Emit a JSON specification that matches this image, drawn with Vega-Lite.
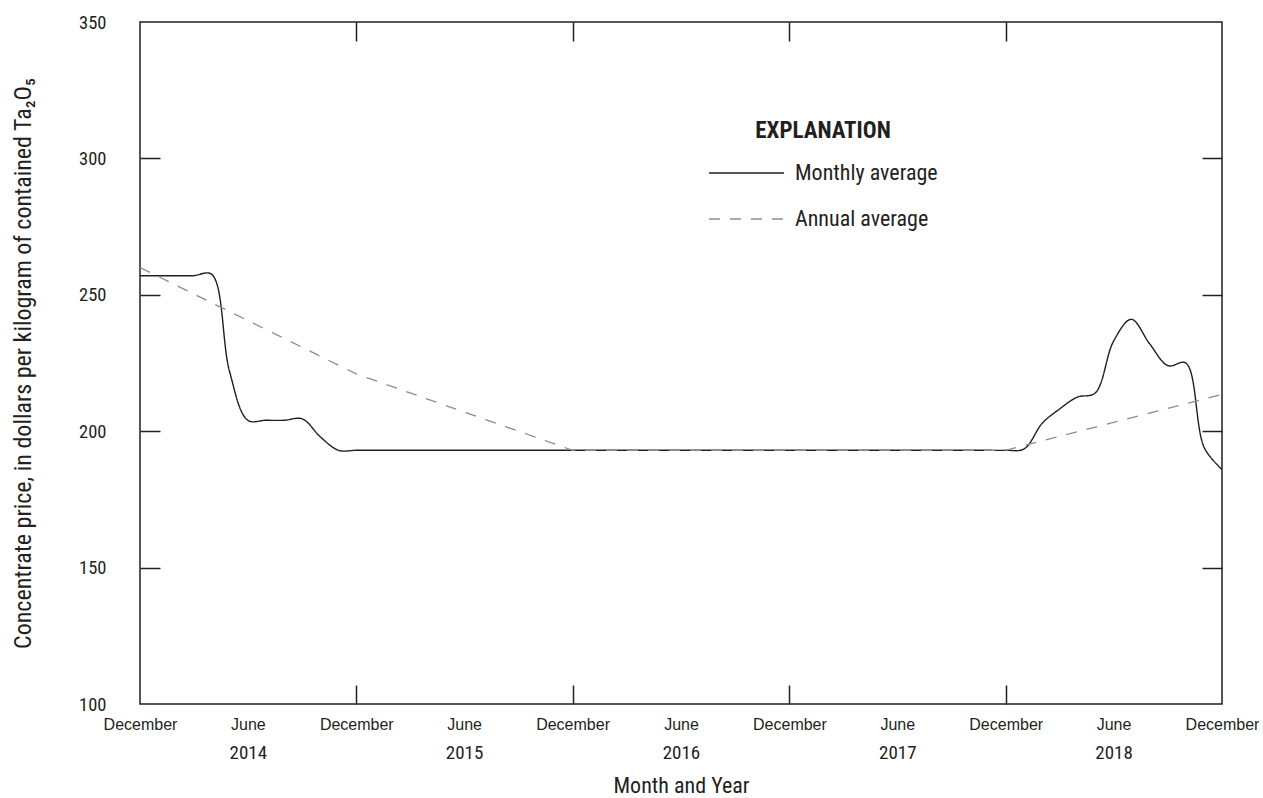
{
  "$schema": "https://vega.github.io/schema/vega-lite/v6.json",
  "width": 1082,
  "height": 682,
  "autosize": {"type": "none"},
  "padding": {"left": 140, "top": 22, "right": 41, "bottom": 94},
  "datasets": {
    "monthly": [
      {"date": "2013-12-01", "price": 257, "series": "Monthly average"},
      {"date": "2014-01-01", "price": 257, "series": "Monthly average"},
      {"date": "2014-02-01", "price": 257, "series": "Monthly average"},
      {"date": "2014-03-01", "price": 257, "series": "Monthly average"},
      {"date": "2014-04-01", "price": 257.5, "series": "Monthly average"},
      {"date": "2014-05-01", "price": 222, "series": "Monthly average"},
      {"date": "2014-06-01", "price": 204, "series": "Monthly average"},
      {"date": "2014-07-01", "price": 204, "series": "Monthly average"},
      {"date": "2014-08-01", "price": 204, "series": "Monthly average"},
      {"date": "2014-09-01", "price": 204.5, "series": "Monthly average"},
      {"date": "2014-10-01", "price": 198, "series": "Monthly average"},
      {"date": "2014-11-01", "price": 193, "series": "Monthly average"},
      {"date": "2014-12-01", "price": 193, "series": "Monthly average"},
      {"date": "2015-01-01", "price": 193, "series": "Monthly average"},
      {"date": "2015-02-01", "price": 193, "series": "Monthly average"},
      {"date": "2015-03-01", "price": 193, "series": "Monthly average"},
      {"date": "2015-04-01", "price": 193, "series": "Monthly average"},
      {"date": "2015-05-01", "price": 193, "series": "Monthly average"},
      {"date": "2015-06-01", "price": 193, "series": "Monthly average"},
      {"date": "2015-07-01", "price": 193, "series": "Monthly average"},
      {"date": "2015-08-01", "price": 193, "series": "Monthly average"},
      {"date": "2015-09-01", "price": 193, "series": "Monthly average"},
      {"date": "2015-10-01", "price": 193, "series": "Monthly average"},
      {"date": "2015-11-01", "price": 193, "series": "Monthly average"},
      {"date": "2015-12-01", "price": 193, "series": "Monthly average"},
      {"date": "2016-01-01", "price": 193, "series": "Monthly average"},
      {"date": "2016-02-01", "price": 193, "series": "Monthly average"},
      {"date": "2016-03-01", "price": 193, "series": "Monthly average"},
      {"date": "2016-04-01", "price": 193, "series": "Monthly average"},
      {"date": "2016-05-01", "price": 193, "series": "Monthly average"},
      {"date": "2016-06-01", "price": 193, "series": "Monthly average"},
      {"date": "2016-07-01", "price": 193, "series": "Monthly average"},
      {"date": "2016-08-01", "price": 193, "series": "Monthly average"},
      {"date": "2016-09-01", "price": 193, "series": "Monthly average"},
      {"date": "2016-10-01", "price": 193, "series": "Monthly average"},
      {"date": "2016-11-01", "price": 193, "series": "Monthly average"},
      {"date": "2016-12-01", "price": 193, "series": "Monthly average"},
      {"date": "2017-01-01", "price": 193, "series": "Monthly average"},
      {"date": "2017-02-01", "price": 193, "series": "Monthly average"},
      {"date": "2017-03-01", "price": 193, "series": "Monthly average"},
      {"date": "2017-04-01", "price": 193, "series": "Monthly average"},
      {"date": "2017-05-01", "price": 193, "series": "Monthly average"},
      {"date": "2017-06-01", "price": 193, "series": "Monthly average"},
      {"date": "2017-07-01", "price": 193, "series": "Monthly average"},
      {"date": "2017-08-01", "price": 193, "series": "Monthly average"},
      {"date": "2017-09-01", "price": 193, "series": "Monthly average"},
      {"date": "2017-10-01", "price": 193, "series": "Monthly average"},
      {"date": "2017-11-01", "price": 193, "series": "Monthly average"},
      {"date": "2017-12-01", "price": 193, "series": "Monthly average"},
      {"date": "2018-01-01", "price": 193.5, "series": "Monthly average"},
      {"date": "2018-02-01", "price": 203, "series": "Monthly average"},
      {"date": "2018-03-01", "price": 208, "series": "Monthly average"},
      {"date": "2018-04-01", "price": 212.5, "series": "Monthly average"},
      {"date": "2018-05-01", "price": 214, "series": "Monthly average"},
      {"date": "2018-06-01", "price": 233, "series": "Monthly average"},
      {"date": "2018-07-01", "price": 241, "series": "Monthly average"},
      {"date": "2018-08-01", "price": 232, "series": "Monthly average"},
      {"date": "2018-09-01", "price": 224, "series": "Monthly average"},
      {"date": "2018-10-01", "price": 225, "series": "Monthly average"},
      {"date": "2018-11-01", "price": 194, "series": "Monthly average"},
      {"date": "2018-12-01", "price": 186, "series": "Monthly average"}
    ],
    "annual": [
      {"date": "2013-12-01", "price": 260, "series": "Annual average"},
      {"date": "2014-12-01", "price": 221, "series": "Annual average"},
      {"date": "2015-12-01", "price": 193, "series": "Annual average"},
      {"date": "2016-12-01", "price": 193, "series": "Annual average"},
      {"date": "2017-12-01", "price": 193, "series": "Annual average"},
      {"date": "2018-12-01", "price": 213.5, "series": "Annual average"}
    ]
  },
  "config": {
    "view": {"stroke": "#231f20", "strokeWidth": 1.5},
    "font": "Roboto Condensed, Roboto",
    "axis": {
      "grid": false,
      "domain": false,
      "labelColor": "#231f20",
      "titleColor": "#231f20",
      "tickColor": "#231f20",
      "tickWidth": 1.5,
      "labelFont": "Roboto Condensed, Roboto",
      "titleFont": "Roboto Condensed, Roboto",
      "titleFontWeight": "normal",
      "labelFlush": false,
      "labelOverlap": false,
      "labelBound": false
    },
    "legend": {
      "orient": "none",
      "legendX": 568,
      "legendY": 98,
      "titleFont": "Roboto Condensed, Roboto",
      "titleFontSize": 23,
      "titleFontWeight": "bold",
      "titleColor": "#231f20",
      "titleAnchor": "middle",
      "titlePadding": 7,
      "labelFont": "Roboto Condensed, Roboto",
      "labelFontSize": 22,
      "labelColor": "#231f20",
      "symbolType": "stroke",
      "symbolSize": 5625,
      "symbolStrokeWidth": 1.4,
      "labelOffset": 10,
      "clipHeight": 46,
      "rowPadding": 0,
      "padding": 0
    }
  },
  "layer": [
    {
      "data": {"name": "monthly"},
      "mark": {"type": "line", "interpolate": "catmull-rom", "strokeWidth": 1.4},
      "encoding": {
        "x": {
          "field": "date", "type": "temporal",
          "scale": {"type": "utc", "nice": false, "domain": [{"year": 2013, "month": 12, "date": 1, "utc": true}, {"year": 2018, "month": 12, "date": 1, "utc": true}]},
          "axis": {
            "orient": "bottom",
            "values": [
              {"year": 2013, "month": 12, "date": 1, "utc": true},
              {"year": 2014, "month": 6, "date": 1, "utc": true},
              {"year": 2014, "month": 12, "date": 1, "utc": true},
              {"year": 2015, "month": 6, "date": 1, "utc": true},
              {"year": 2015, "month": 12, "date": 1, "utc": true},
              {"year": 2016, "month": 6, "date": 1, "utc": true},
              {"year": 2016, "month": 12, "date": 1, "utc": true},
              {"year": 2017, "month": 6, "date": 1, "utc": true},
              {"year": 2017, "month": 12, "date": 1, "utc": true},
              {"year": 2018, "month": 6, "date": 1, "utc": true},
              {"year": 2018, "month": 12, "date": 1, "utc": true}
            ],
            "format": "%B",
            "ticks": false,
            "labelFont": "Liberation Sans",
            "labelFontSize": 16,
            "labelPadding": 12,
            "title": "Month and Year",
            "titleFontSize": 22,
            "titlePadding": 43
          }
        },
        "y": {
          "field": "price", "type": "quantitative",
          "scale": {"domain": [100, 350], "nice": false, "zero": false},
          "axis": {
            "orient": "left",
            "values": [100, 150, 200, 250, 300, 350],
            "ticks": false,
            "labelFontSize": 18.5,
            "labelPadding": 34,
            "title": "Concentrate price, in dollars per kilogram of contained Ta₂O₅",
            "titleFontSize": 24,
            "titlePadding": 43
          }
        },
        "color": {
          "field": "series", "type": "nominal",
          "scale": {"domain": ["Monthly average", "Annual average"], "range": ["#231f20", "#8c8c8c"]},
          "legend": {"title": "EXPLANATION"}
        },
        "strokeDash": {
          "field": "series", "type": "nominal",
          "scale": {"domain": ["Monthly average", "Annual average"], "range": [[1, 0], [11, 10]]},
          "legend": {"title": "EXPLANATION"}
        }
      }
    },
    {
      "data": {"name": "annual"},
      "mark": {"type": "line", "strokeWidth": 1.3},
      "encoding": {
        "x": {
          "field": "date", "type": "temporal",
          "scale": {"type": "utc", "nice": false, "domain": [{"year": 2013, "month": 12, "date": 1, "utc": true}, {"year": 2018, "month": 12, "date": 1, "utc": true}]},
          "axis": {
            "orient": "bottom",
            "values": [
              {"year": 2014, "month": 6, "date": 1, "utc": true},
              {"year": 2015, "month": 6, "date": 1, "utc": true},
              {"year": 2016, "month": 6, "date": 1, "utc": true},
              {"year": 2017, "month": 6, "date": 1, "utc": true},
              {"year": 2018, "month": 6, "date": 1, "utc": true}
            ],
            "format": "%Y",
            "ticks": false,
            "labelFontSize": 19,
            "labelPadding": 39,
            "title": null
          }
        },
        "y": {
          "field": "price", "type": "quantitative",
          "scale": {"domain": [100, 350], "nice": false, "zero": false},
          "axis": {
            "orient": "right",
            "values": [150, 200, 250, 300],
            "labels": false,
            "tickSize": -20,
            "title": null
          }
        },
        "color": {
          "field": "series", "type": "nominal",
          "scale": {"domain": ["Monthly average", "Annual average"], "range": ["#231f20", "#8c8c8c"]},
          "legend": {"title": "EXPLANATION"}
        },
        "strokeDash": {
          "field": "series", "type": "nominal",
          "scale": {"domain": ["Monthly average", "Annual average"], "range": [[1, 0], [11, 10]]},
          "legend": {"title": "EXPLANATION"}
        }
      }
    },
    {
      "data": {"name": "annual"},
      "mark": {"type": "line", "opacity": 0},
      "encoding": {
        "x": {
          "field": "date", "type": "temporal",
          "scale": {"type": "utc", "nice": false, "domain": [{"year": 2013, "month": 12, "date": 1, "utc": true}, {"year": 2018, "month": 12, "date": 1, "utc": true}]},
          "axis": {
            "orient": "bottom",
            "values": [
              {"year": 2014, "month": 12, "date": 1, "utc": true},
              {"year": 2015, "month": 12, "date": 1, "utc": true},
              {"year": 2016, "month": 12, "date": 1, "utc": true},
              {"year": 2017, "month": 12, "date": 1, "utc": true}
            ],
            "labels": false,
            "tickSize": -19,
            "title": null
          }
        },
        "y": {
          "field": "price", "type": "quantitative",
          "scale": {"domain": [100, 350], "nice": false, "zero": false},
          "axis": {
            "orient": "left",
            "values": [150, 200, 250, 300],
            "labels": false,
            "tickSize": -20,
            "title": null
          }
        }
      }
    },
    {
      "data": {"name": "annual"},
      "mark": {"type": "line", "opacity": 0},
      "encoding": {
        "x": {
          "field": "date", "type": "temporal",
          "scale": {"type": "utc", "nice": false, "domain": [{"year": 2013, "month": 12, "date": 1, "utc": true}, {"year": 2018, "month": 12, "date": 1, "utc": true}]},
          "axis": {
            "orient": "top",
            "values": [
              {"year": 2014, "month": 12, "date": 1, "utc": true},
              {"year": 2015, "month": 12, "date": 1, "utc": true},
              {"year": 2016, "month": 12, "date": 1, "utc": true},
              {"year": 2017, "month": 12, "date": 1, "utc": true}
            ],
            "labels": false,
            "tickSize": -19,
            "title": null
          }
        },
        "y": {
          "field": "price", "type": "quantitative",
          "scale": {"domain": [100, 350], "nice": false, "zero": false},
          "axis": null
        }
      }
    }
  ],
  "resolve": {"axis": {"x": "independent", "y": "independent"}}
}
